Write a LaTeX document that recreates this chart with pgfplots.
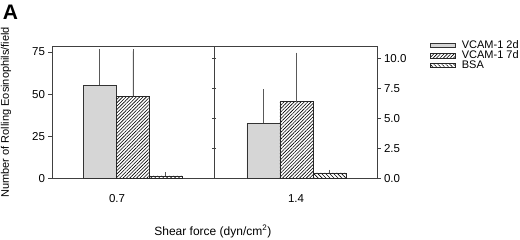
\documentclass[border=0pt]{standalone}
\usepackage{pgfplots}
\pgfplotsset{compat=1.18}
\usepackage{fontspec}
\setmainfont{Liberation Sans}
\usetikzlibrary{patterns.meta}
\definecolor{barfill}{HTML}{D6D6D6}
\definecolor{axcol}{HTML}{404040}
\begin{document}
\begin{tikzpicture}
\useasboundingbox (0,0) rectangle (520pt,240pt);
\node[anchor=center,font=\bfseries\fontsize{21}{21}\selectfont] at (10.5pt,228pt) {A};
% main axis (left scale)
\begin{axis}[
  at={(52pt,61.5pt)}, anchor=south west,
  scale only axis, width=325pt, height=132.6pt,
  xmin=0, xmax=325, ymin=0, ymax=78.6,
  axis line style={axcol, line width=0.6pt},
  ytick={0,25,50,75}, ytick pos=left,
  tick align=outside, major tick length=3.5pt,
  tick style={axcol, line width=0.6pt},
  xtick={65,244}, xticklabels={0.7,1.4},
  xtick style={draw=none},
  xticklabel style={yshift=-9pt},
  /pgf/number format/assume math mode=true,
  ticklabel style={font=\fontsize{11.5}{13}\selectfont},
  xlabel={Shear force (dyn/cm\textsuperscript{2})},
  xlabel style={at={(axis description cs:0.495,-0.40)}, anchor=center, font=\fontsize{12}{14}\selectfont},
  ylabel={Number of Rolling Eosinophils/field},
  ylabel style={at={(axis description cs:-0.1415,0.5)}, anchor=center, font=\fontsize{11}{13}\selectfont},
  ybar, bar width=33, 
  clip=false,
  error bars/y dir=plus, error bars/y explicit,
  error bars/error bar style={line width=0.5pt, color=black!65},
  error bars/error mark options={line width=0.5pt, color=black!65, mark size=1.8pt},
  legend cell align=left,
  legend style={at={(1.163,1.05)}, anchor=north west, draw=none, fill=none,
    font=\fontsize{11}{12}\selectfont, row sep=-1.8pt, column sep=5pt, inner sep=0pt,
    nodes={inner sep=1.2pt}},
  legend image code/.code={\draw[#1, line width=0.5pt] (0pt,-2.3pt) rectangle (25pt,2.3pt);},
]
\addplot[bar shift=0pt, fill=barfill, draw=black!80, line width=0.6pt]
  coordinates {(47.5,55.4) +- (0,20.0) (211.3,32.6) +- (0,19.1)};
\addlegendentry{VCAM-1 2d}
\addplot[bar shift=0pt, draw=black!85, line width=0.6pt, pattern={Lines[angle=45,distance=2.4pt,line width=0.6pt]}]
  coordinates {(80.8,48.8) +- (0,26.6) (244.3,45.6) +- (0,28.0)};
\addlegendentry{VCAM-1 7d}
\addplot[bar shift=0pt, draw=black!85, line width=0.6pt, pattern={Lines[angle=-45,distance=2.8pt,line width=0.6pt]}]
  coordinates {(113.7,1.5) +- (0,1.0) (277.5,3.3) +- (0,0.8)};
\addlegendentry{BSA}
\end{axis}
% right scale
\begin{axis}[
  at={(52pt,61.5pt)}, anchor=south west,
  scale only axis, width=325pt, height=132.6pt,
  xmin=0, xmax=325, ymin=0, ymax=11.05,
  axis x line=none, axis y line*=right,
  axis line style={axcol, line width=0.6pt},
  ytick={0,2.5,5,7.5,10},
  tick align=outside, major tick length=3.5pt,
  tick style={axcol, line width=0.6pt},
  /pgf/number format/.cd, fixed, fixed zerofill, precision=1, assume math mode=true,
  /pgfplots/.cd,
  ticklabel style={font=\fontsize{11.5}{13}\selectfont},
]
\end{axis}
% middle divider with ticks (right-panel scale)
\begin{axis}[
  at={(52pt,61.5pt)}, anchor=south west,
  scale only axis, width=162pt, height=132.6pt,
  xmin=0, xmax=162, ymin=0, ymax=11.05,
  axis x line=none, axis y line*=right,
  axis line style={axcol, line width=0.6pt},
  ytick={2.5,5,7.5,10}, yticklabels={},
  tick align=center, major tick length=4pt,
  tick style={axcol, line width=0.6pt},
]
\end{axis}
\end{tikzpicture}
\end{document}
